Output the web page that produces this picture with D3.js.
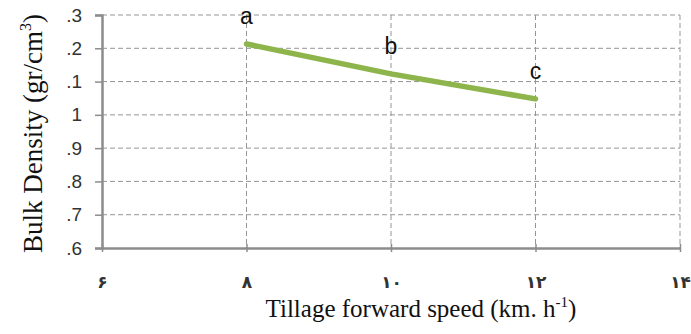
<!DOCTYPE html>
<html>
<head>
<meta charset="utf-8">
<script src="https://cdn.jsdelivr.net/npm/d3@7"></script>
<style>
  body { margin: 0; background: #fff; }
  svg { display: block; }
</style>
</head>
<body>
<svg id="chart"></svg>
<script>
const speeds = [8, 10, 12];
const density = [1.213, 1.123, 1.048];
const letters = ['a', 'b', 'c'];
const xTicks = [6, 8, 10, 12, 14];
const xTickLabels = ['۶', '۸', '۱۰', '۱۲', '۱۴'];
const yTicks = [0.6, 0.7, 0.8, 0.9, 1.0, 1.1, 1.2, 1.3];
const yTickLabels = ['.6', '.7', '.8', '.9', '1', '.1', '.2', '.3'];

const width = 691;
const height = 334;
const margin = { top: 15, right: 11, bottom: 86, left: 102 };

const svg = d3.select('#chart')
  .attr('width', width)
  .attr('height', height);

const innerWidth = width - margin.left - margin.right;
const innerHeight = height - margin.top - margin.bottom;

const x = d3.scaleLinear().domain([6, 14]).range([0, innerWidth]);
const y = d3.scaleLinear().domain([0.6, 1.3]).range([innerHeight, 0]);

const g = svg.append('g')
  .attr('transform', `translate(${margin.left}, ${margin.top})`);

// dashed grid
g.append('g')
  .selectAll('line')
  .data(yTicks.slice(1))
  .enter().append('line')
    .attr('x1', 0)
    .attr('x2', innerWidth)
    .attr('y1', d => y(d))
    .attr('y2', d => y(d))
    .attr('stroke', '#959595')
    .attr('stroke-width', 1)
    .attr('stroke-dasharray', '5,3');

g.append('g')
  .selectAll('line')
  .data(xTicks.slice(1))
  .enter().append('line')
    .attr('x1', d => x(d))
    .attr('x2', d => x(d))
    .attr('y1', 0)
    .attr('y2', innerHeight)
    .attr('stroke', '#959595')
    .attr('stroke-width', 1)
    .attr('stroke-dasharray', '5,3');

// y axis
const yAxis = g.append('g')
  .call(d3.axisLeft(y)
    .tickValues(yTicks)
    .tickSize(7)
    .tickPadding(13)
    .tickFormat((d, i) => yTickLabels[i]));
yAxis.select('.domain').attr('stroke', '#8c8c8c').attr('stroke-width', 2.5);
yAxis.selectAll('.tick line').attr('stroke', '#8c8c8c').attr('stroke-width', 1.5);
yAxis.selectAll('.tick text')
  .attr('font-family', 'Liberation Sans, Arial, sans-serif')
  .attr('font-size', 19)
  .attr('fill', '#333');

// x axis
const xAxis = g.append('g')
  .attr('transform', `translate(0, ${innerHeight})`)
  .call(d3.axisBottom(x)
    .tickValues(xTicks)
    .tickSizeInner(4)
    .tickSizeOuter(0)
    .tickPadding(24)
    .tickFormat((d, i) => xTickLabels[i]));
xAxis.select('.domain').attr('stroke', '#8c8c8c').attr('stroke-width', 2.5);
xAxis.selectAll('.tick line')
  .attr('y1', -4)
  .attr('stroke', '#8c8c8c')
  .attr('stroke-width', 1.5);
xAxis.selectAll('.tick text')
  .attr('font-family', 'DejaVu Sans, sans-serif')
  .attr('font-size', 17)
  .attr('font-weight', 'bold')
  .attr('fill', '#333');

// line
const line = d3.line()
  .x((d, i) => x(speeds[i]))
  .y(d => y(d));

g.append('path')
  .datum(density)
  .attr('d', line)
  .attr('fill', 'none')
  .attr('stroke', '#8db54c')
  .attr('stroke-width', 5.5)
  .attr('stroke-linecap', 'round');

g.selectAll('.letter')
  .data(density)
  .enter().append('text')
    .attr('class', 'letter')
    .attr('x', (d, i) => x(speeds[i]))
    .attr('y', d => y(d) - 20)
    .attr('text-anchor', 'middle')
    .attr('font-family', 'Liberation Sans, Arial, sans-serif')
    .attr('font-size', 23)
    .attr('fill', '#111')
    .text((d, i) => letters[i]);

// axis titles
const yTitle = svg.append('text')
  .attr('transform', `translate(42, ${margin.top + innerHeight / 2 + 2}) rotate(-90)`)
  .attr('text-anchor', 'middle')
  .attr('font-family', 'Liberation Serif, Times New Roman, serif')
  .attr('font-size', 27)
  .attr('fill', '#111');
yTitle.append('tspan').text('Bulk Density (gr/cm');
yTitle.append('tspan').attr('font-size', 16).attr('dy', -11).text('3');
yTitle.append('tspan').attr('dy', 11).text(')');

const xTitle = svg.append('text')
  .attr('x', 421)
  .attr('y', 317)
  .attr('text-anchor', 'middle')
  .attr('font-family', 'Liberation Serif, Times New Roman, serif')
  .attr('font-size', 25)
  .attr('fill', '#111');
xTitle.append('tspan').text('Tillage forward speed (km. h');
xTitle.append('tspan').attr('font-size', 15).attr('dy', -10).text('-1');
xTitle.append('tspan').attr('dy', 10).text(')');
</script>
</body>
</html>
